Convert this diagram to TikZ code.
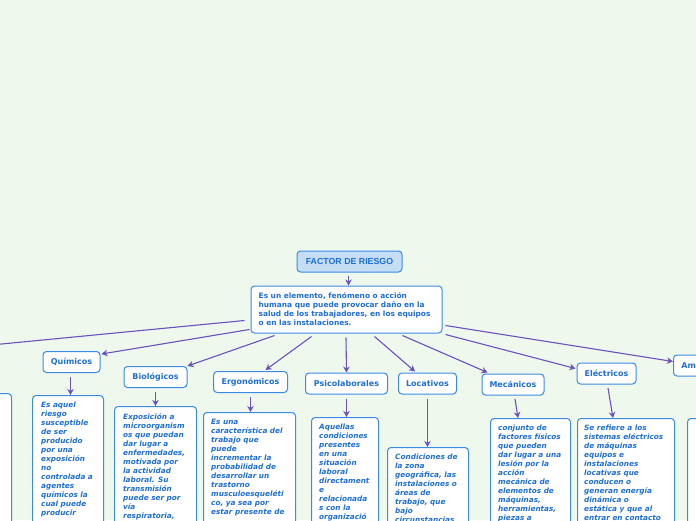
\documentclass[tikz,border=0pt]{standalone}
\usepackage{fontspec}
\setmainfont{DejaVu Sans}
\newfontfamily\titlefont{Liberation Sans}
\usetikzlibrary{calc,arrows.meta}
\definecolor{bgc}{HTML}{EFF8EC}
\definecolor{bord}{HTML}{3B8BE6}
\definecolor{txt}{HTML}{1D6ED8}
\definecolor{conn}{HTML}{6A51BF}
\definecolor{titlefill}{HTML}{C5DEF5}
\tikzset{
  box/.style={draw=bord, line width=1pt, rounded corners=3.5pt, fill=white},
  titlebox/.style={box, fill=titlefill, minimum width=105pt, minimum height=21pt, inner sep=0pt,
    font=\titlefont\fontsize{8.8}{10}\selectfont\bfseries, text=txt},
  catbox/.style={box, minimum height=21pt, inner sep=0pt,
    font=\fontsize{8}{10}\selectfont\bfseries, text=txt},
  descbox/.style={box, inner sep=0pt, anchor=north west, minimum height=220pt},
  desctext/.style={anchor=north west, inner sep=0pt, align=left, text=txt,
    font=\fontsize{7.3}{9}\selectfont\bfseries\itshape},
  deftext/.style={anchor=north west, inner sep=0pt, align=left, text=txt,
    font=\fontsize{7.4}{9}\selectfont\bfseries},
  arr/.style={draw=conn, line width=1.1pt, -{Stealth[length=6pt,width=6.5pt]}}
}
\begin{document}
\begin{tikzpicture}[x=1pt,y=-1pt]
\useasboundingbox (0,0) rectangle (696,520);
\fill[bgc] (0,0) rectangle (696,520);

% root
\node[titlebox] (title) at (349.5,261.5) {FACTOR DE RIESGO};
\node[box, minimum width=191pt, minimum height=47pt, inner sep=0pt] (def) at (346.5,309.5) {};
\node[deftext] (deft) at ($(def.north west)+(8,6.5)$)
  {Es un elemento, fenómeno o acción\\humana que puede provocar daño en la\\salud de los trabajadores, en los equipos\\o en las instalaciones.};

% categories
\node[catbox, minimum width=57pt] (quim) at (71.5,362) {Químicos};
\node[catbox, minimum width=63pt] (bio) at (155.5,377) {Biológicos};
\node[catbox, minimum width=74pt] (ergo) at (250.5,382) {Ergonómicos};
\node[catbox, minimum width=82pt] (psico) at (346.5,383.5) {Psicolaborales};
\node[catbox, minimum width=58pt] (loc) at (427.5,383.5) {Locativos};
\node[catbox, minimum width=62pt] (mec) at (513,384.5) {Mecánicos};
\node[catbox, minimum width=59pt] (elec) at (606.5,373.5) {Eléctricos};
\node[catbox, minimum width=72pt, anchor=west] (amb) at (673,365.5) {Ambientales};
\coordinate (fisend) at (-40,348);

% description boxes
\node[descbox, minimum width=80pt] (fisd) at (-69,393) {};
\node[descbox, minimum width=71pt] (quimd) at (32,395) {};
\node[descbox, minimum width=82pt] (biod) at (114,406) {};
\node[descbox, minimum width=92pt] (ergod) at (203,412) {};
\node[descbox, minimum width=67pt] (psicod) at (311,417) {};
\node[descbox, minimum width=81pt] (locd) at (387,447) {};
\node[descbox, minimum width=80pt] (mecd) at (490,418) {};
\node[descbox, minimum width=97pt] (elecd) at (577,418) {};
\node[descbox, minimum width=83pt] (ambd) at (687,418) {};

\node[desctext] (quimt) at ($(quimd.north west)+(9,7)$)
  {Es aquel\\riesgo\\susceptible\\de ser\\producido\\por una\\exposición\\no\\controlada a\\agentes\\químicos la\\cual puede\\producir};
\node[desctext] (biot) at ($(biod.north west)+(9,7)$)
  {Exposición a\\microorganism\\os que puedan\\dar lugar a\\enfermedades,\\motivada por\\la actividad\\laboral. Su\\transmisión\\puede ser por\\vía\\respiratoria,};
\node[desctext] (ergot) at ($(ergod.north west)+(8,7)$)
  {Es una\\característica del\\trabajo que\\puede\\incrementar la\\probabilidad de\\desarrollar un\\trastorno\\musculoesqueléti\\co, ya sea por\\estar presente de};
\node[desctext] (psicot) at ($(psicod.north west)+(8,7)$)
  {Aquellas\\condiciones\\presentes\\en una\\situación\\laboral\\directament\\e\\relacionada\\s con la\\organizació};
\node[desctext] (loct) at ($(locd.north west)+(8,7)$)
  {Condiciones de\\la zona\\geográfica, las\\instalaciones o\\áreas de\\trabajo, que\\bajo\\circunstancias};
\node[desctext] (mect) at ($(mecd.north west)+(8,7)$)
  {conjunto de\\factores físicos\\que pueden\\dar lugar a una\\lesión por la\\acción\\mecánica de\\elementos de\\máquinas,\\herramientas,\\piezas a};
\node[desctext] (elect) at ($(elecd.north west)+(7,7)$)
  {Se refiere a los\\sistemas eléctricos\\de máquinas\\equipos e\\instalaciones\\locativas que\\conducen o\\generan energía\\dinámica o\\estática y que al\\entrar en contacto};

% connectors
\draw[arr] ($(title.south)+(-1,3)$) -- ($(title.south |- def.north)+(-1,0)$);
\draw[arr] ($(def.south west)+(-6,-13)$) -- (fisend);
\draw[arr] ($(def.south west)+(-1,-4)$) -- ($(quim.north east)+(1,3)$);
\draw[arr] ($(def.south west)+(24,2)$) -- (bio.north east);
\draw[arr] ($(def.south west)+(61,3)$) -- ($(ergo.north)+(15,-1)$);
\draw[arr] ($(def.south west)+(95.5,4)$) -- (psico.north);
\draw[arr] ($(def.south west)+(124,3)$) -- ($(loc.north west)+(17,-1)$);
\draw[arr] ($(def.south west)+(152,2)$) -- ($(mec.north west)+(6,-1)$);
\draw[arr] ($(def.south east)+(3,1)$) -- ($(elec.west)+(-1,-5)$);
\draw[arr] ($(def.south east)+(3,-8)$) -- ($(amb.west)+(0,-4)$);

\draw[arr] ($(quim.south)+(-1,4)$) -- ($(quim.south |- quimd.north)+(-1,0)$);
\draw[arr] ($(bio.south)+(0,4)$) -- (bio.south |- biod.north);
\draw[arr] ($(ergo.south)+(0,4)$) -- (ergo.south |- ergod.north);
\draw[arr] ($(psico.south)+(0,4)$) -- (psico.south |- psicod.north);
\draw[arr] ($(loc.south)+(0,4)$) -- (loc.south |- locd.north);
\draw[arr] ($(mec.south)+(2,3.5)$) -- ($(mecd.north west)+(28,0)$);
\draw[arr] ($(elec.south)+(1.5,3.5)$) -- ($(elecd.north west)+(36,0)$);
\end{tikzpicture}
\end{document}
